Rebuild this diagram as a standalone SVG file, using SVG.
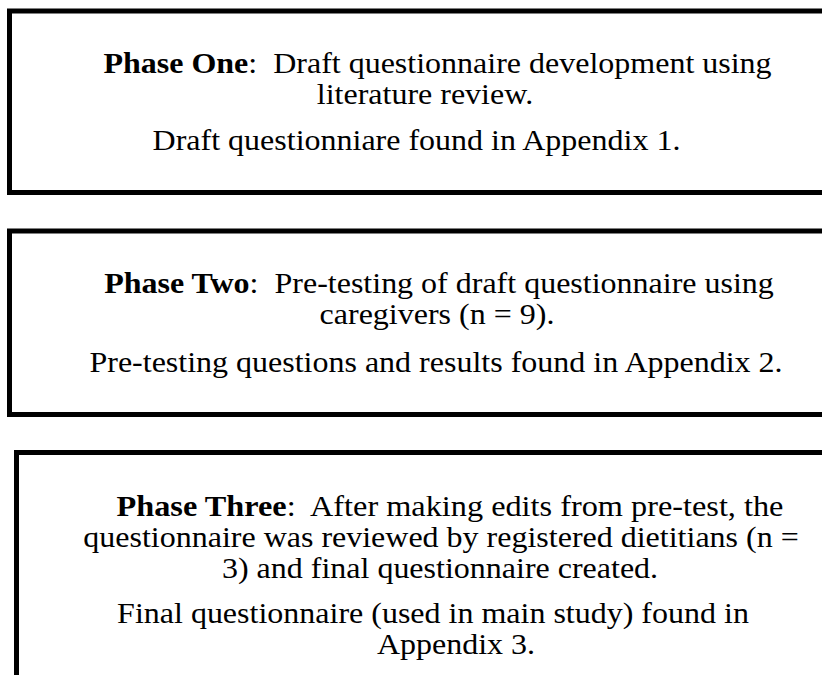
<svg xmlns="http://www.w3.org/2000/svg" width="822" height="675" viewBox="0 0 822 675">
  <style>
    .box { fill: #ffffff; stroke: #000000; stroke-width: 5; }
    .t { font-family: "Liberation Serif", "Times New Roman", serif; font-size: 29.5px; fill: #000000; text-anchor: middle; }
    .b { font-weight: bold; }
  </style>
  <rect width="822" height="675" fill="#ffffff"/>

  <!-- text lines are set slightly wide: scale(1.085,1) about each line's centre -->
  <g id="phase-one">
    <rect class="box" x="9.5" y="11" width="840" height="181.5"/>
    <text class="t" transform="translate(437.5,73) scale(1.085,1)" xml:space="preserve"><tspan class="b">Phase One</tspan>:  Draft questionnaire development using</text>
    <text class="t" transform="translate(425,104) scale(1.085,1)">literature review.</text>
    <text class="t" transform="translate(416.5,150) scale(1.085,1)">Draft questionniare found in Appendix 1.</text>
  </g>

  <g id="phase-two">
    <rect class="box" x="9.5" y="231" width="840" height="183.5"/>
    <text class="t" transform="translate(439,293) scale(1.085,1)" xml:space="preserve"><tspan class="b">Phase Two</tspan>:  Pre-testing of draft questionnaire using</text>
    <text class="t" transform="translate(437,324) scale(1.085,1)">caregivers (n = 9).</text>
    <text class="t" transform="translate(436,372) scale(1.085,1)">Pre-testing questions and results found in Appendix 2.</text>
  </g>

  <g id="phase-three">
    <rect class="box" x="16.5" y="452.5" width="840" height="260"/>
    <text class="t" transform="translate(450,516) scale(1.095,1)" xml:space="preserve"><tspan class="b">Phase Three</tspan>:  After making edits from pre-test, the</text>
    <text class="t" transform="translate(441,547) scale(1.085,1)">questionnaire was reviewed by registered dietitians (n =</text>
    <text class="t" transform="translate(440,578) scale(1.085,1)">3) and final questionnaire created.</text>
    <text class="t" transform="translate(433,623) scale(1.085,1)">Final questionnaire (used in main study) found in</text>
    <text class="t" transform="translate(456,654) scale(1.085,1)">Appendix 3.</text>
  </g>

  <g id="connectors"/>
</svg>
